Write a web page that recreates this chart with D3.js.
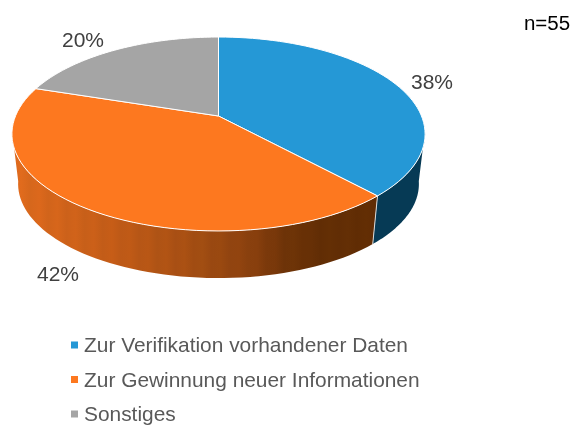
<!DOCTYPE html>
<html><head><meta charset="utf-8">
<script src="https://cdn.jsdelivr.net/npm/d3@7"></script>
<style>html,body{margin:0;padding:0;background:#fff}svg{display:block;filter:blur(0.35px)}text{font-family:"Liberation Sans",Arial,sans-serif}</style>
</head><body><svg id="c" width="571" height="425"></svg>
<script>
const categories=["Zur Verifikation vorhandener Daten","Zur Gewinnung neuer Informationen","Sonstiges"];
const values=[21,23,11];
const labels=["38%","42%","20%"];
const topColors=["#2598d6","#fd781f","#a5a5a5"];
const sampleSize="n=55";

const svg=d3.select("#c"), defs=svg.append("defs");
const W=203,k=-0.1856,A=72.1,apexX=218.5,apexY=116,midY=134,depth=50,shrink=0.97;
const project=(t,z)=>{
  const X=Math.sin(t),Y=-Math.cos(t),d=1+k*Y;
  const x=W*X/d,y=(A*Y+apexY)/d;
  return z?[apexX+x*shrink,midY+(y-midY)*shrink+depth]:[apexX+x,y];
};
const arcs=d3.pie().sort(null)(values);
const arcPts=(a,b,z)=>d3.range(0,61).map(i=>project(a+(b-a)*i/60,z));
const line=d3.line();

const g=defs.append("linearGradient").attr("id","wallOrange").attr("gradientUnits","userSpaceOnUse")
  .attr("x1",12).attr("x2",375).attr("y1",0).attr("y2",0);
const shade=d3.scaleLinear().domain([0,.12,.3,.52,.656,.75,.85,1]).range(["#de6a1d","#d2641a","#c05a17","#a04c12","#8a400e","#6f3408","#622e05","#612d04"]);
d3.range(0,1.0001,.025).forEach((o,i)=>{
  g.append("stop").attr("offset",o).attr("stop-color",d3.color(shade(o)).brighter(i%2?.06:-.04).formatHex());
});
const wallFill=["#063a55","url(#wallOrange)","#6f6f6f"];

// side walls: the part of each slice facing the viewer
const visA=99*Math.PI/180, visB=261*Math.PI/180;
arcs.forEach((d,i)=>{
  const a=Math.max(d.startAngle,visA),b=Math.min(d.endAngle,visB);
  if(b<=a) return;
  const pts=arcPts(a,b,false).concat(arcPts(a,b,true).reverse());
  svg.append("path").attr("d",line(pts)+"Z").attr("fill",wallFill[i]);
});
// divider between blue and orange walls
const e=arcs[0].endAngle;
svg.append("path").attr("d",line([project(e,false),project(e,true)])).attr("stroke","#d9d9d9").attr("stroke-width",1).attr("fill","none");

// top faces
arcs.forEach((d,i)=>{
  const pts=[[apexX,apexY]].concat(arcPts(d.startAngle,d.endAngle,false));
  svg.append("path").attr("d",line(pts)+"Z").attr("fill",topColors[i]).attr("stroke","#fff").attr("stroke-width",1).attr("stroke-linejoin","round");
});

// data labels
const labelPos=[[432,89],[58,281],[83,47]];
labels.forEach((t,i)=>svg.append("text").attr("x",labelPos[i][0]).attr("y",labelPos[i][1]).attr("text-anchor","middle").attr("font-size",21).attr("fill","#404040").text(t));
svg.append("text").attr("x",547).attr("y",30).attr("text-anchor","middle").attr("font-size",20.5).attr("fill","#000").text(sampleSize);

// legend
const ly=d3.scalePoint().domain(categories).range([345,414]);
categories.forEach((c,i)=>{
  svg.append("rect").attr("x",71).attr("y",ly(c)-3.5).attr("width",7).attr("height",7).attr("fill",topColors[i]);
  svg.append("text").attr("x",84).attr("y",ly(c)+7).attr("font-size",20.9).attr("fill","#595959").text(c);
});
</script></body></html>
